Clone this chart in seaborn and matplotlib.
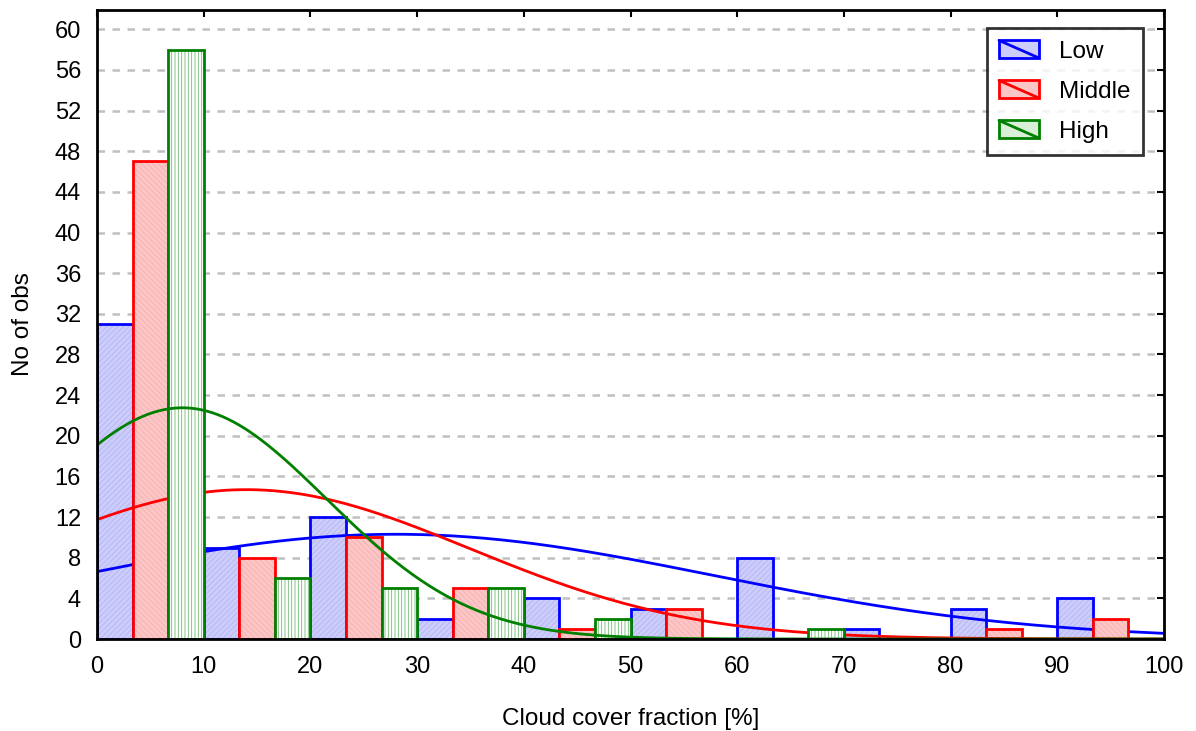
import numpy as np
import pandas as pd
import seaborn as sns
import matplotlib
matplotlib.use('Agg')
import matplotlib.pyplot as plt
from matplotlib.patches import Patch
from matplotlib.lines import Line2D
from matplotlib.legend_handler import HandlerPatch

# histogram counts per 10 % bin (each bin split in three sub-bars)
bin_starts = [0, 10, 20, 30, 40, 50, 60, 70, 80, 90]
low_counts = [31, 9, 12, 2, 4, 3, 8, 1, 3, 4]
middle_counts = [47, 8, 10, 5, 1, 3, 0, 0, 1, 2]
high_counts = [58, 6, 5, 5, 2, 0, 1, 0, 0, 0]

# fitted normal curves (mean, sd), n = 77, bin width 10
curve_means = [28.0, 14.0, 8.0]
curve_sds = [29.8, 20.9, 13.5]
n_obs = 77
bin_width = 10

series_names = ['Low', 'Middle', 'High']
series_counts = [low_counts, middle_counts, high_counts]
edge_colors = ['#0000ff', '#ff0000', '#008000']
face_colors = ['#cdcdfb', '#fdc6c6', '#ffffff']
hatch_colors = ['#b4b4f4', '#f4b0b0', '#70b870']
hatches = ['//////', '\\\\\\\\\\\\', '|||||']

sns.set_style('white')
plt.rcParams['font.family'] = ['Liberation Sans', 'DejaVu Sans']
plt.rcParams['hatch.linewidth'] = 0.6
plt.rcParams['text.color'] = 'black'
plt.rcParams['axes.labelcolor'] = 'black'

fig = plt.figure(figsize=(11.96, 7.31), dpi=100)
ax = fig.add_axes([97 / 1196, 1 - 639 / 731, 1067 / 1196, 629 / 731])

sub_w = bin_width / 3
xs = np.linspace(0, 100, 400)

for i, (name, counts) in enumerate(zip(series_names, series_counts)):
    centers = [b + sub_w * (i + 0.5) for b in bin_starts]
    df = pd.DataFrame({'x': centers, 'n': counts})
    z = 2 + i * 3
    n_before = len(ax.patches)
    sns.barplot(data=df, x='x', y='n', native_scale=True, width=1 / 3,
                color=face_colors[i], edgecolor=hatch_colors[i], linewidth=0,
                saturation=1, errorbar=None, zorder=z, ax=ax)
    for p in ax.patches[n_before:]:
        p.set_hatch(hatches[i])
    sns.barplot(data=df, x='x', y='n', native_scale=True, width=1 / 3,
                color=edge_colors[i], fill=False, linewidth=2,
                saturation=1, errorbar=None, zorder=z + 1, ax=ax)
    ys = n_obs * bin_width / (curve_sds[i] * np.sqrt(2 * np.pi)) * \
        np.exp(-(xs - curve_means[i]) ** 2 / (2 * curve_sds[i] ** 2))
    sns.lineplot(x=xs, y=ys, color=edge_colors[i], linewidth=2, ax=ax,
                 zorder=z + 2)

ax.set_xlim(0, 100)
ax.set_ylim(0, 61.9)
ax.set_xticks(range(0, 101, 10))
ax.set_yticks(range(0, 61, 4))
ax.yaxis.grid(True, color='#c0c0c0', linestyle=(0, (3, 3)), linewidth=1.8, zorder=0)
ax.set_axisbelow(True)
ax.tick_params(direction='in', top=True, right=True, length=5, width=1.5,
               labelsize=17, colors='black')
ax.tick_params(axis='x', pad=12.5)
ax.tick_params(axis='y', pad=11.5)
for s in ax.spines.values():
    s.set_linewidth(2)
    s.set_color('black')
    s.set_zorder(20)

ax.set_xlabel('Cloud cover fraction [%]', fontsize=17.5, labelpad=21)
ax.set_ylabel('No of obs', fontsize=17.5, labelpad=15)


class HandlerDiag(HandlerPatch):
    def create_artists(self, legend, orig_handle, xdescent, ydescent, width,
                       height, fontsize, trans):
        arts = super().create_artists(legend, orig_handle, xdescent, ydescent,
                                      width, height, fontsize, trans)
        line = Line2D([-xdescent, -xdescent + width],
                      [-ydescent + height, -ydescent],
                      color=orig_handle.get_edgecolor(), linewidth=2,
                      transform=trans)
        return arts + [line]


handles = [Patch(facecolor=face_colors[i] if i < 2 else '#d8f0d8',
                 edgecolor=edge_colors[i], linewidth=2, label=series_names[i])
           for i in range(3)]
leg = ax.legend(handles=handles, loc='upper right',
                bbox_to_anchor=(0.98, 0.971), borderaxespad=0,
                fontsize=17.5, frameon=True, fancybox=False, edgecolor='black',
                handlelength=1.65, handleheight=0.74, labelspacing=0.73,
                handletextpad=0.82, borderpad=0.5,
                handler_map={Patch: HandlerDiag()})
leg.get_frame().set_linewidth(2)
leg.set_zorder(30)

fig.savefig('out.png', dpi=100)
